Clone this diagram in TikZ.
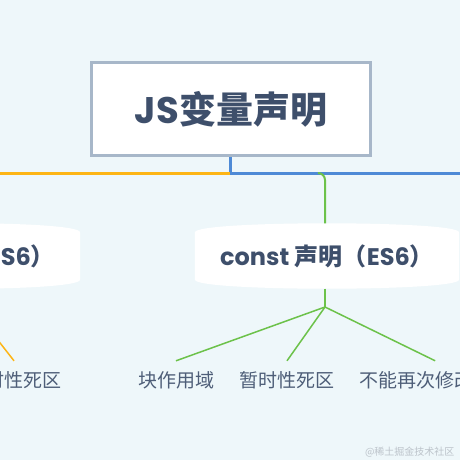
\documentclass[tikz,border=0pt]{standalone}
\usepackage{fontspec}
\setmainfont{Noto Sans CJK SC}
\newfontfamily\latf{Poppins}
\usetikzlibrary{positioning, backgrounds}
\definecolor{cbg}{HTML}{EEF7FA}
\definecolor{cink}{HTML}{3E4F6B}
\definecolor{cleaf}{HTML}{4E5E78}
\definecolor{cframe}{HTML}{A7B7C9}
\definecolor{corange}{HTML}{FDB515}
\definecolor{cblue}{HTML}{4E8AD6}
\definecolor{cgreen}{HTML}{6CC24A}
\definecolor{cmark}{HTML}{BCC3CA}
\tikzset{
  root/.style={draw=cframe, fill=white, line width=3pt, minimum width=279pt, minimum height=93pt, font=\fontsize{37}{40}\selectfont\bfseries, text=cink},
  decl/.style={inner xsep=25pt, minimum height=65pt, font=\fontsize{24}{26}\selectfont\bfseries, text=cink},
  leaf/.style={inner sep=0pt, minimum height=38pt, font=\fontsize{19}{22}\selectfont, text=cleaf},
  trunk/.style={line width=3pt, draw=#1},
  twig/.style={line width=1.5pt, draw=#1},
}
% white lens behind a declaration node
\newcommand\lensfill[1]{%
  \begin{pgfonlayer}{background}
    \fill[white] ([yshift=-9pt]#1.north west) .. controls ([yshift=3pt]#1.north west) and ([yshift=3pt]#1.north east) .. ([yshift=-9pt]#1.north east)
      -- ([yshift=9pt]#1.south east) .. controls ([yshift=-3pt]#1.south east) and ([yshift=-3pt]#1.south west) .. ([yshift=9pt]#1.south west) -- cycle;
  \end{pgfonlayer}}

\begin{document}
\begin{tikzpicture}[x=1pt, y=-1pt]
  \useasboundingbox (0,0) rectangle (460,460);
  \begin{pgfonlayer}{background}
    \fill[cbg] (0,0) rectangle (460,460);
  \end{pgfonlayer}
  \clip (0,0) rectangle (460,460);

  \node[root] (root) at (231,109) {{\latf JS}变量声明};
  \coordinate (hub) at (230,173);
  \draw[trunk=cblue] (root.south -| hub) -- (hub) -- (480,173);
  \draw[trunk=corange] (hub) -- (-20,173);

  \node[decl, anchor=east] (letdecl) at (80,256) {{\latf let} 声明（{\latf ES6}）};
  \lensfill{letdecl}
  \node[decl, anchor=east] (constdecl) at (459,256) {{\latf const} 声明（{\latf ES6}）};
  \lensfill{constdecl}

  \coordinate (cbranch) at (318,173);
  \coordinate (cfork) at (325,307);
  \draw[twig=cgreen, line width=2pt, rounded corners=7pt] (cbranch) -| (constdecl.north -| cfork);

  \coordinate (letfork) at (-28,307);
  \node[leaf] (letdead) at (14,380) {暂时性死区};
  \node[leaf] (scope) at (176,380) {块作用域};
  \node[leaf] (dead) at (287,380) {暂时性死区};
  \node[leaf, anchor=west] (fixed) at (359,380) {不能再次修改};

  \draw[twig=corange] (letfork) -- (letdead.north);
  \draw[twig=cgreen] (constdecl.south -| cfork) -- (cfork);
  \draw[twig=cgreen] (cfork) -- (scope.north);
  \draw[twig=cgreen] (cfork) -- (dead.north);
  \draw[twig=cgreen] (cfork) -- ([xshift=19pt]fixed.north);

  \node[font=\fontsize{10}{12}\selectfont, text=cmark, anchor=east] (mark) at (458,452) {@稀土掘金技术社区};
\end{tikzpicture}
\end{document}
